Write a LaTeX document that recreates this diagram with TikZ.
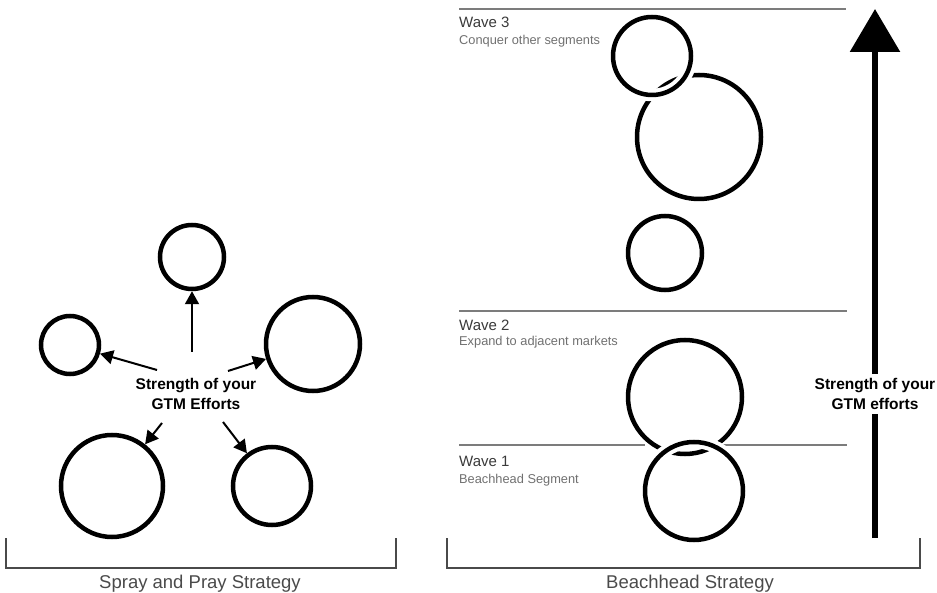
\documentclass[tikz,border=0pt]{standalone}
\usepackage{fontspec}
\setmainfont{Liberation Sans}
\usetikzlibrary{arrows.meta}

\definecolor{rulegray}{HTML}{7C7C7C}
\definecolor{bracketgray}{HTML}{4A4A4A}
\definecolor{wavetext}{HTML}{3A3A3A}
\definecolor{subtext}{HTML}{707070}

\begin{document}
\begin{tikzpicture}[x=1pt,y=-1pt,
    ring/.style={circle,draw=black,line width=4.5pt,inner sep=0pt,minimum size=#1},
    halo/.style={preaction={draw=white,line width=12.5pt}},
    push/.style={line width=2pt,-{Triangle[length=13pt,width=14pt]}},
    waveline/.style={rulegray,line width=1.5pt},
    bracket/.style={bracketgray,line width=2pt},
    wavename/.style={anchor=base west,inner sep=0pt,text=wavetext,font=\fontsize{15}{18}\selectfont},
    wavesub/.style={anchor=base west,inner sep=0pt,text=subtext,font=\fontsize{12.8}{15}\selectfont},
    effort/.style={align=center,inner sep=4pt,font=\bfseries\fontsize{15.5}{20}\selectfont},
    caption/.style={anchor=base,inner sep=0pt,text=bracketgray,font=\fontsize{18.5}{22}\selectfont}]
  \useasboundingbox (0,0) rectangle (937,593);

  % spray and pray
  \node[effort] (sl) at (196,394) {Strength of your\\GTM Efforts};
  \node[ring=64pt] (sp1) at (192,257) {};
  \node[ring=58pt] (sp2) at (70,345) {};
  \node[ring=94pt] (sp3) at (313,344) {};
  \node[ring=102pt] (sp4) at (112,486) {};
  \node[ring=78pt] (sp5) at (272,486) {};
  \coordinate (a1) at (192,352);
  \coordinate (a2) at (157,370);
  \coordinate (a3) at (228,371);
  \coordinate (a4) at (162,423);
  \coordinate (a5) at (223,422);
  \draw[push] (a1) -- (sp1);
  \draw[push] (a2) -- (sp2);
  \draw[push] (a3) -- (sp3);
  \draw[push] (a4) -- (sp4);
  \draw[push] (a5) -- (sp5);
  \draw[bracket] (6,538) |- (396,568) -- (396,538);
  \node[caption] (spray) at (200,588) {Spray and Pray Strategy};

  % beachhead
  \draw[waveline] (459,9) -- (846,9);
  \draw[waveline] (459,311) -- (847,311);
  \draw[waveline] (459,445) -- (645,445) (723,445) -- (847,445);
  \node[wavename] (w3) at (459,28) {Wave 3};
  \node[wavesub] (w3s) at (459,45) {Conquer other segments};
  \node[wavename] (w2) at (459,331) {Wave 2};
  \node[wavesub] (w2s) at (459,346) {Expand to adjacent markets};
  \node[wavename] (w1) at (459,466) {Wave 1};
  \node[wavesub] (w1s) at (459,483) {Beachhead Segment};

  \node[ring=124pt] (bh3b) at (699,137) {};
  \node[ring=78pt,halo] (bh3a) at (652,56) {};
  \node[ring=74pt] (bh3c) at (665,253) {};
  \node[ring=114pt] (bh2) at (685,397) {};
  \node[ring=98pt,halo] (bh1) at (694,491) {};

  \node[effort] (sr) at (875,394) {Strength of your\\GTM efforts};
  \coordinate (abot) at (875,538);
  \coordinate (atop) at (875,9);
  \draw[line width=6pt] (abot) -- (sr);
  \draw[line width=6pt,-{Triangle[length=43pt,width=49pt]}] (sr) -- (atop);
  \draw[bracket] (447,538) |- (920,568) -- (920,538);
  \node[caption] (beach) at (690,588) {Beachhead Strategy};
\end{tikzpicture}
\end{document}
